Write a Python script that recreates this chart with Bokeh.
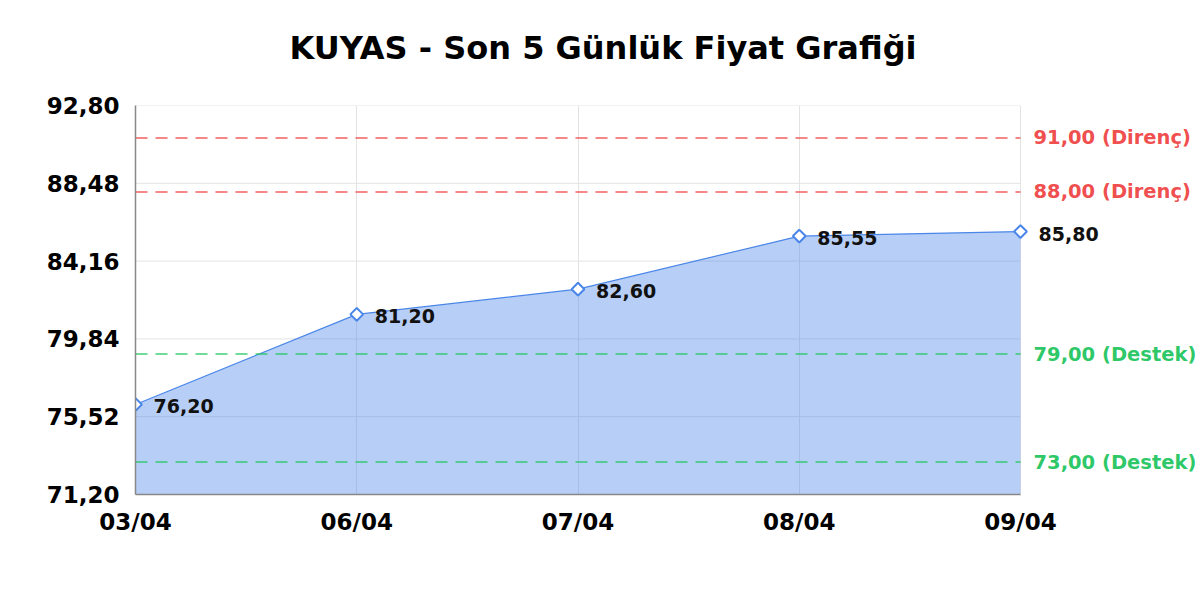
from bokeh.plotting import figure
from bokeh.models import Range1d, FixedTicker, CustomJSTickFormatter, ColumnDataSource, Title
from bokeh.core.properties import value
from bokeh.embed import file_html
from bokeh.resources import INLINE

# data
dates = ["03/04", "06/04", "07/04", "08/04", "09/04"]
prices = [76.20, 81.20, 82.60, 85.55, 85.80]
resistance = [91.00, 88.00]
support = [79.00, 73.00]
y_ticks = [71.20, 75.52, 79.84, 84.16, 88.48, 92.80]

FONT = "DejaVu Sans"
BLUE = "#4a86e8"
RED = "#ef4444"
GREEN = "#22c55e"
GRID = "#e3e3e3"


def fmt(v):
    return ("%.2f" % v).replace(".", ",")


idx = list(range(len(dates)))
last = idx[-1]
src = ColumnDataSource(data=dict(x=idx, y=prices, lbl=[fmt(v) for v in prices]))

# the frame runs on past the last date so the level labels on the right are not clipped
p = figure(width=1198, height=598, output_backend="svg", toolbar_location=None,
           x_range=Range1d(0, last * 1.2), y_range=Range1d(y_ticks[0], y_ticks[-1]),
           min_border_left=135, min_border_right=1, min_border_top=105, min_border_bottom=104)

p.title.text = "KUYAS - Son 5 Günlük Fiyat Grafiği"
p.title.align = "left"
p.title.offset = 154
p.title.standoff = 50
p.title.text_font = FONT
p.title.text_font_size = "32px"
p.title.text_font_style = "bold"
p.title.text_color = "#000000"

# small empty spacer between the frame and the title
p.add_layout(Title(text=" ", text_font_size="1px", standoff=11), "above")

p.outline_line_color = None

# axes
p.xaxis.ticker = FixedTicker(ticks=idx)
p.xaxis.major_label_overrides = {i: d for i, d in enumerate(dates)}
p.xaxis.bounds = (0, last)
p.yaxis.ticker = FixedTicker(ticks=y_ticks)
p.yaxis.formatter = CustomJSTickFormatter(code="return tick.toFixed(2).replace('.', ',');")
for ax in (p.xaxis, p.yaxis):
    ax.major_label_text_font = FONT
    ax.major_label_text_font_size = "23px"
    ax.major_label_text_font_style = "bold"
    ax.major_label_text_color = "#000000"
    ax.axis_line_color = "#888888"
    ax.axis_line_width = 1.5
    ax.major_tick_line_color = None
    ax.minor_tick_line_color = None
p.yaxis.major_label_standoff = 10
p.xaxis.major_label_standoff = 8

p.xgrid.grid_line_color = GRID
p.ygrid.grid_line_color = None
# horizontal grid lines only across the dated part
p.segment(x0=0, x1=last, y0=y_ticks, y1=y_ticks, line_color=GRID, line_width=1)

# price area and line
p.varea(x="x", y1=y_ticks[0], y2="y", source=src, fill_color=BLUE, fill_alpha=0.4)
p.line("x", "y", source=src, line_color=BLUE, line_width=1.2)

# support / resistance levels
for levels, col, name in ((resistance, RED, "Direnç"), (support, GREEN, "Destek")):
    p.segment(x0=0, x1=last, y0=levels, y1=levels, line_color=col, line_alpha=0.85,
              line_width=1.5, line_dash="12 8")
    p.text(x=[last] * len(levels), y=levels, text=[fmt(v) + " (" + name + ")" for v in levels],
           x_offset=13, text_font=value(FONT), text_font_size="19.5px", text_font_style="bold",
           text_color=col, text_alpha=0.95, text_baseline="middle")

p.scatter("x", "y", source=src, marker="square", angle=0.785, size=9, fill_color="white",
          line_color=BLUE, line_width=2)

p.text(x="x", y="y", text="lbl", source=src, x_offset=18, y_offset=2,
       text_font=value(FONT), text_font_size="19px", text_font_style="bold",
       text_color="#111111", text_baseline="middle")

open("out.html", "w").write(file_html(p, INLINE))
